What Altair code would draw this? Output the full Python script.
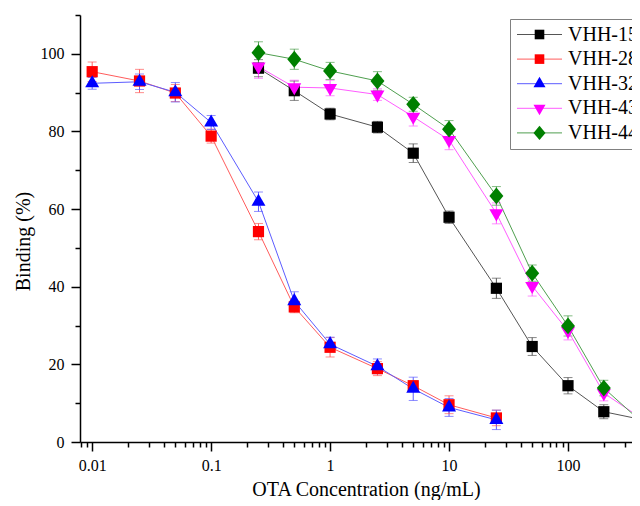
import altair as alt
import pandas as pd

# ---- data ----
series_names = ["VHH-15", "VHH-28", "VHH-32", "VHH-43", "VHH-44"]

conc_low = [0.01, 0.025, 0.05, 0.1, 0.25, 0.5, 1, 2.5, 5, 10, 25]
conc_high = [0.25, 0.5, 1, 2.5, 5, 10, 25, 50, 100, 200, 400]

vhh15 = [96.3, 90.5, 84.5, 81.1, 74.4, 57.9, 39.6, 24.6, 14.5, 7.8, 5.9]
vhh28 = [95.4, 93.0, 89.9, 78.8, 54.2, 34.8, 24.4, 18.9, 14.5, 9.6, 6.2]
vhh32 = [92.4, 92.8, 90.1, 82.3, 61.9, 36.3, 25.2, 19.5, 13.7, 8.9, 5.7]
vhh43 = [96.7, 91.4, 91.2, 89.5, 83.8, 77.8, 58.9, 40.2, 28.6, 12.6, 6.4]
vhh44 = [100.3, 98.6, 95.6, 93.0, 87.0, 80.6, 63.4, 43.5, 29.9, 13.9, 5.6]

err15 = [2.2, 2.5, 1.5, 1.5, 2.4, 1.6, 2.6, 2.3, 2.1, 1.8, 1.5]
err28 = [2.5, 3.0, 2.2, 1.8, 2.1, 1.5, 2.5, 1.8, 1.2, 2.3, 2.0]
err32 = [1.5, 2.0, 2.5, 1.8, 2.5, 2.4, 1.8, 1.9, 3.0, 2.3, 2.5]
err43 = [3.0, 1.8, 2.0, 1.5, 2.4, 2.5, 2.7, 2.6, 2.3, 2.0, 1.5]
err44 = [2.8, 2.6, 2.2, 2.4, 1.8, 2.2, 2.4, 2.1, 2.6, 2.0, 1.5]

marker_colors = ["#000000", "#ff0000", "#0000ff", "#ff00ff", "#008000"]
line_colors = ["#555555", "#ff5c5c", "#5c5cff", "#ff5cff", "#4f9f4f"]
marker_paths = [
    "M-0.8,-0.8H0.8V0.8H-0.8Z",
    "M-0.8,-0.8H0.8V0.8H-0.8Z",
    "M0,-1.155L1,0.577L-1,0.577Z",
    "M0,1.155L1,-0.577L-1,-0.577Z",
    "M0,-1.2L1,0L0,1.2L-1,0Z",
]

x_major = [0.01, 0.1, 1, 10, 100]
x_minor = [0.008, 0.009] + [m * d for d in [0.01, 0.1, 1, 10] for m in range(2, 10)] + [200, 300, 400]
y_major = [0, 20, 40, 60, 80, 100]
y_minor = [10, 30, 50, 70, 90, 110]

FONT = "Liberation Serif"

# ---- long table ----
table = [
    ("VHH-15", conc_high, vhh15, err15),
    ("VHH-28", conc_low, vhh28, err28),
    ("VHH-32", conc_low, vhh32, err32),
    ("VHH-43", conc_high, vhh43, err43),
    ("VHH-44", conc_high, vhh44, err44),
]
rows = []
for order, (name, xs, ys, es) in enumerate(table):
    for x, y, e in zip(xs, ys, es):
        rows.append({"series": name, "order": order, "conc": x, "binding": y,
                     "lo": y - e, "hi": y + e})
df = pd.DataFrame(rows)
caps = pd.concat([df.assign(cap=df["lo"]), df.assign(cap=df["hi"])], ignore_index=True)
caps = caps.sort_values(["order", "conc"])

x_vals = sorted(x_major + x_minor)
y_vals = sorted(y_major + y_minor)

is_major_x = "abs(log(datum.value)/LN10 - round(log(datum.value)/LN10)) < 0.001"
x_axis = alt.Axis(
    values=x_vals,
    labelExpr=f"{is_major_x} ? format(datum.value, '~g') : ''",
    tickSize={"condition": {"test": is_major_x, "value": 9}, "value": 5},
    title="OTA Concentration (ng/mL)",
    titleX=286, titleY=53, titleBaseline="alphabetic", titleAnchor="middle",
    titleFontSize=20, titleFont=FONT, titleFontWeight="normal",
    labelFont=FONT, labelFontSize=16, labelPadding=6, labelColor="black",
    grid=False, orient="bottom", labelOverlap=False, labelFlush=False,
)
y_axis = alt.Axis(
    values=y_vals,
    labelExpr="datum.value % 20 == 0 ? datum.value : ''",
    tickSize={"condition": {"test": "datum.value % 20 == 0", "value": 9}, "value": 5},
    title="Binding (%)",
    titleX=-57, titleY=226, titleBaseline="middle", titleAnchor="middle",
    titleFontSize=20, titleFont=FONT, titleFontWeight="normal",
    labelFont=FONT, labelFontSize=16, labelPadding=7, labelColor="black",
    grid=False, orient="left", labelOverlap=False, labelFlush=False,
)

xs = alt.Scale(type="log", domain=[0.0079, 403], nice=False)
ys = alt.Scale(domain=[0, 110], nice=False, zero=False)

X = alt.X("conc:Q", scale=xs, axis=x_axis)
Y = alt.Y("binding:Q", scale=ys, axis=y_axis)

light = alt.Scale(domain=series_names, range=line_colors)
dark = alt.Scale(domain=series_names, range=marker_colors)

legend_lines = alt.Legend(
    orient="none", legendX=430, legendY=4, title=None,
    symbolType="M-7.5,0H7.5", symbolSize=36, symbolStrokeWidth=1,
    symbolOffset=14, labelOffset=18.5,
    labelFont=FONT, labelFontSize=20, labelColor="black",
    rowPadding=4.6, padding=5.5, strokeColor="#808080", labelLimit=300,
)
legend_marks = alt.Legend(
    orient="none", legendX=430, legendY=4, title=None,
    symbolSize=144, symbolStrokeWidth=0, symbolOffset=14, labelOffset=18.5,
    labelFont=FONT, labelFontSize=20, labelOpacity=0,
    rowPadding=4.6, padding=5.5, labelLimit=300,
)

base = alt.Chart(df)

err_rules = alt.Chart(df).mark_rule(strokeWidth=1).encode(
    x=X, y=alt.Y("lo:Q", scale=ys, axis=y_axis), y2="hi:Q",
    color=alt.Color("series:N", scale=light, legend=None),
)
err_caps = alt.Chart(caps).mark_tick(orient="horizontal", size=9, thickness=1).encode(
    x=X, y=alt.Y("cap:Q", scale=ys, axis=y_axis),
    color=alt.Color("series:N", scale=light, legend=None),
)
lines = base.mark_line(strokeWidth=1).encode(
    x=X, y=Y,
    color=alt.Color("series:N", scale=light, legend=legend_lines),
)
points = base.mark_point(filled=True, opacity=1, size=196, strokeWidth=0).encode(
    x=X, y=Y,
    color=alt.Color("series:N", scale=dark, legend=legend_marks),
    shape=alt.Shape("series:N", scale=alt.Scale(domain=series_names, range=marker_paths),
                    legend=legend_marks),
)

chart = alt.layer(err_rules, err_caps, lines, points).resolve_scale(
    color="independent", shape="independent"
).properties(
    width=560, height=427,
    autosize=alt.AutoSizeParams(type="none"),
    padding={"left": 72, "top": 7, "right": -8, "bottom": 58},
).configure_view(
    strokeWidth=0
).configure_axis(
    domainColor="black", domainWidth=1.5, tickColor="black", tickWidth=1.5,
)

chart.save("out.html", embed_options={"renderer": "svg", "actions": False})
